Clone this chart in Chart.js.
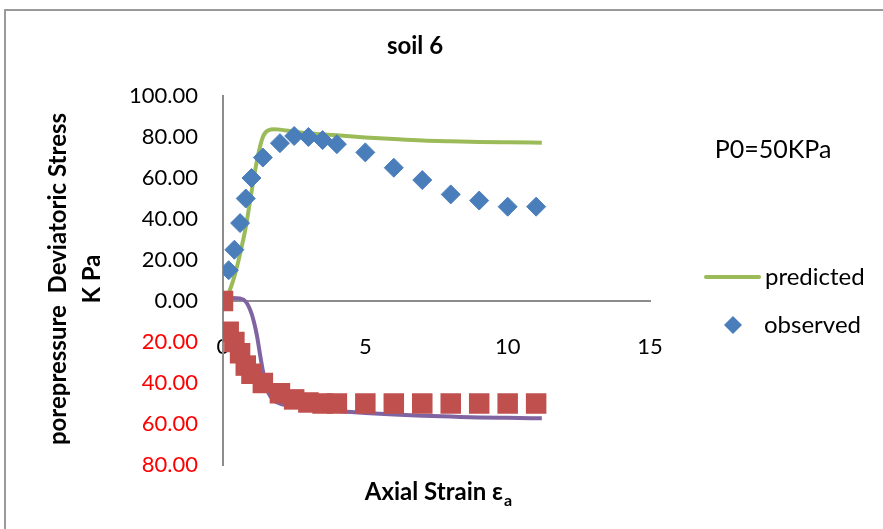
<!DOCTYPE html>
<html><head><meta charset="utf-8">
<script src="https://cdn.jsdelivr.net/npm/chart.js@4"></script>
<style>
html,body{margin:0;padding:0;background:#fff;}
#wrap{position:relative;width:883px;height:529px;overflow:hidden;background:#fff;}
#frame{position:absolute;left:4px;top:9px;width:2000px;height:2000px;border-top:2px solid #9a9a9a;border-left:2px solid #9a9a9a;}
canvas{position:absolute;left:0;top:0;}
</style></head><body>
<div id="wrap"><div id="frame"></div><canvas id="c" width="883" height="529"></canvas></div>
<script>
// ---- data ----
const chartTitle = 'soil 6';
const noteText = 'P0=50KPa';
const xTitle = 'Axial Strain ε';
const xTitleSub = 'a';
const yTitle = ['porepressure  Deviatoric Stress', 'K Pa'];
const legendLabels = ['predicted', 'observed'];

const obsStrain = [0, 0.2, 0.4, 0.6, 0.8, 1.0, 1.4, 2.0, 2.5, 3.0, 3.5, 4.0, 5, 6, 7, 8, 9, 10, 11];
const obsDeviator = [0, 15, 25, 38, 50, 60, 70, 77, 80.5, 80, 78.5, 76.5, 72.5, 65, 59, 52, 49, 46, 46];
const obsPore = [0, -15, -20, -25.5, -31.5, -35.5, -40, -45, -48, -49.5, -50, -50, -50, -50, -50, -50, -50, -50, -50];

const predStrain = [0, 0.2, 0.4, 0.6, 0.8, 1.0, 1.2, 1.4, 1.6, 1.8, 2.0, 2.5, 3, 4, 5, 6, 7, 8, 9, 10, 11.2];
const predDeviator = [0, 4, 12, 23, 36, 53, 69, 80, 83.3, 83.8, 83.6, 82.6, 81.8, 80.8, 79.8, 79.0, 78.3, 77.9, 77.6, 77.4, 77.2];

const predPoreStrain = [0, 0.3, 0.6, 0.8, 1.0, 1.1, 1.2, 1.3, 1.4, 1.5, 1.6, 1.8, 2.0, 2.5, 3, 4, 5, 6, 7, 8, 9, 10, 11.2];
const predPore = [0, 1.5, 1.2, -0.3, -6, -11, -17.5, -26, -34, -40.5, -45, -48.7, -50, -51.4, -52.3, -53.7, -54.6, -55.4, -56, -56.4, -56.8, -57, -57.2];

const xTicks = [0, 5, 10, 15];
const yMin = -80, yMax = 100, yStep = 20;

// ---- styles ----
const FONT = 'Lato';
const GREEN = '#9BBB59', BLUE = '#4A7EBB', RED = '#C0504D', PURPLE = '#8064A2';
const zip = (xs, ys) => xs.map((x, i) => ({x: x, y: ys[i]}));

const textPlugin = {
  id: 'texts',
  afterDraw(chart) {
    const ctx = chart.ctx;
    ctx.save();
    ctx.fillStyle = '#000';
    ctx.textBaseline = 'middle';
    ctx.textAlign = 'center';
    ctx.font = 'bold 24px ' + FONT;
    ctx.fillText(chartTitle, 415, 46);
    ctx.font = '25px ' + FONT;
    ctx.fillText(noteText, 773, 150);
    // y title (rotated, two lines)
    ctx.save();
    ctx.font = 'bold 24px ' + FONT;
    ctx.translate(58, 279);
    ctx.rotate(-Math.PI / 2);
    ctx.fillText(yTitle[0], 0, 0);
    ctx.fillText(yTitle[1], 0, 34);
    ctx.restore();
    // x title with subscript
    ctx.font = 'bold 24px ' + FONT;
    const w1 = ctx.measureText(xTitle).width;
    ctx.font = 'bold 16px ' + FONT;
    const w2 = ctx.measureText(xTitleSub).width;
    const start = 438 - (w1 + w2) / 2;
    ctx.textAlign = 'left';
    ctx.font = 'bold 24px ' + FONT;
    ctx.fillText(xTitle, start, 492);
    ctx.font = 'bold 16px ' + FONT;
    ctx.fillText(xTitleSub, start + w1 + 1, 501);
    // legend
    ctx.strokeStyle = GREEN;
    ctx.lineWidth = 4;
    ctx.lineCap = 'round';
    ctx.beginPath(); ctx.moveTo(706, 277); ctx.lineTo(759, 277); ctx.stroke();
    ctx.fillStyle = BLUE;
    ctx.beginPath();
    ctx.moveTo(733, 316); ctx.lineTo(742, 325); ctx.lineTo(733, 334); ctx.lineTo(724, 325); ctx.closePath();
    ctx.fill();
    ctx.fillStyle = '#000';
    ctx.font = '24px ' + FONT;
    ctx.fillText(legendLabels[0], 765, 277);
    ctx.fillText(legendLabels[1], 764, 325);
    ctx.restore();
  }
};

new Chart(document.getElementById('c'), {
  type: 'scatter',
  data: {
    datasets: [
      {label: 'observed pore', data: zip(obsStrain, obsPore), showLine: false, pointStyle: 'rect',
       pointRadius: 14.5, pointHoverRadius: 14.5, backgroundColor: RED, borderColor: RED, borderWidth: 0, order: 0},
      {label: 'predicted pore', data: zip(predPoreStrain, predPore), showLine: true, pointRadius: 0,
       borderColor: PURPLE, borderWidth: 4, cubicInterpolationMode: 'monotone', fill: false, order: 1},
      {label: legendLabels[1], data: zip(obsStrain, obsDeviator), showLine: false, pointStyle: 'rectRot',
       pointRadius: 9.5, pointHoverRadius: 9.5, backgroundColor: BLUE, borderColor: BLUE, borderWidth: 1, order: 2},
      {label: legendLabels[0], data: zip(predStrain, predDeviator), showLine: true, pointRadius: 0,
       borderColor: GREEN, borderWidth: 4, cubicInterpolationMode: 'monotone', fill: false, order: 3}
    ]
  },
  options: {
    responsive: false,
    animation: false,
    events: [],
    layout: {padding: {left: 0, right: 233, top: 96, bottom: 64}},
    plugins: {legend: {display: false}, tooltip: {enabled: false}, title: {display: false}},
    scales: {
      x: {
        type: 'linear', position: {y: 0}, min: 0, max: 15,
        afterBuildTicks: s => { s.ticks = xTicks.map(v => ({value: v})); },
        grid: {display: true, color: 'rgba(0,0,0,0)', drawTicks: false},
        border: {display: true, color: '#8c8c8c', width: 2},
        ticks: {padding: 33, color: '#000', font: {family: FONT, size: 22}, maxRotation: 0, autoSkip: false}
      },
      y: {
        type: 'linear', position: 'left', min: yMin, max: yMax,
        afterFit: s => { s.width = 223; },
        grid: {display: true, color: 'rgba(0,0,0,0)', drawTicks: false},
        border: {display: true, color: '#8c8c8c', width: 2},
        ticks: {stepSize: yStep, padding: 25, font: {family: FONT, size: 22},
          color: c => (c.tick && c.tick.value < 0) ? '#FF0000' : '#000',
          callback: v => Math.abs(v).toFixed(2)},
        title: {display: false}
      }
    }
  },
  plugins: [textPlugin]
});
</script>
</body></html>
